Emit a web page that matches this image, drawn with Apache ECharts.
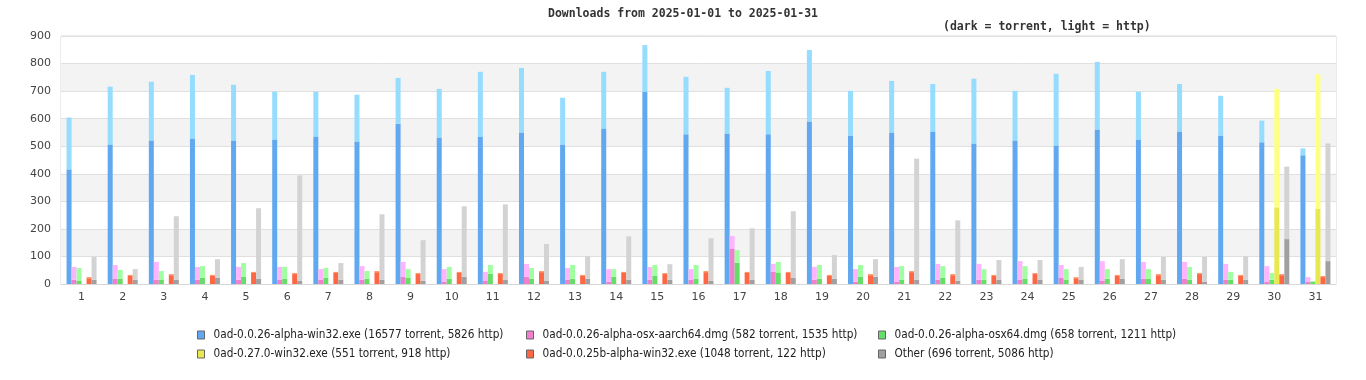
<!DOCTYPE html>
<html>
<head>
<meta charset="utf-8">
<script src="https://cdn.jsdelivr.net/npm/echarts@6/dist/echarts.min.js"></script>
<style>html,body{margin:0;padding:0;background:#fff;}#c{width:1366px;height:380px;}</style>
</head>
<body>
<div id="c"></div>
<script>
const days = ['1','2','3','4','5','6','7','8','9','10','11','12','13','14','15','16','17','18','19','20','21','22','23','24','25','26','27','28','29','30','31'];
const yTicks = [0,100,200,300,400,500,600,700,800,900];

const fileNames = [
  '0ad-0.0.26-alpha-win32.exe (16577 torrent, 5826 http)',
  '0ad-0.0.26-alpha-osx-aarch64.dmg (582 torrent, 1535 http)',
  '0ad-0.0.26-alpha-osx64.dmg (658 torrent, 1211 http)',
  '0ad-0.27.0-win32.exe (551 torrent, 918 http)',
  '0ad-0.0.25b-alpha-win32.exe (1048 torrent, 122 http)',
  'Other (696 torrent, 5086 http)'
];

const win32Torrent = [416,506,521,528,521,524,535,517,582,532,535,550,506,564,698,543,546,543,590,539,550,553,510,521,503,561,524,553,539,514,467];
const win32Http    = [188,210,213,231,202,174,163,170,166,176,235,234,170,206,169,209,166,230,259,162,187,173,235,180,260,245,174,173,144,79,25];

const aarchTorrent = [15,19,15,15,15,15,15,15,26,8,11,26,15,8,15,15,127,44,15,8,8,15,15,15,22,11,19,19,15,8,8];
const aarchHttp    = [47,50,65,47,47,47,39,50,54,46,33,47,43,46,47,39,47,29,47,46,54,58,58,68,47,72,61,61,58,57,17];

const osx64Torrent = [11,19,15,22,26,19,22,19,22,19,37,19,19,26,29,19,77,40,19,26,15,22,15,19,15,19,19,15,15,15,8];
const osx64Http    = [47,32,32,43,50,43,36,28,32,43,32,39,50,28,40,50,46,40,50,43,50,43,39,46,39,35,35,47,29,25,3];

const v27Torrent = [0,0,0,0,0,0,0,0,0,0,0,0,0,0,0,0,0,0,0,0,0,0,0,0,0,0,0,0,0,278,273];
const v27Http    = [0,0,0,0,0,0,0,0,0,0,0,0,0,0,0,0,0,0,0,0,0,0,0,0,0,0,0,0,0,430,488];

const v25Torrent = [21,29,32,29,40,36,40,43,36,40,36,43,29,40,36,43,40,40,29,32,43,32,29,36,21,29,32,36,29,32,25];
const v25Http    = [4,4,4,4,4,4,4,4,4,4,4,4,4,4,4,4,4,4,4,4,4,4,4,4,4,4,4,4,4,4,4];

const otherTorrent = [15,15,15,22,19,11,15,15,11,26,15,11,19,15,15,11,15,22,19,26,15,11,15,15,15,19,15,8,15,163,83];
const otherHttp    = [84,39,231,68,256,383,61,238,148,256,274,134,82,158,57,155,187,242,86,64,440,220,72,72,47,71,83,90,86,263,427];

const darkColors  = ['#60a8f0','#f080cc','#66dd66','#e8e850','#ff6644','#a0a0a0'];
const lightColors = ['#95dcff','#ffb4ff','#a0ffa0','#ffff80','#ff9966','#d3d3d3'];

const torrentData = [win32Torrent, aarchTorrent, osx64Torrent, v27Torrent, v25Torrent, otherTorrent];
const httpData    = [win32Http, aarchHttp, osx64Http, v27Http, v25Http, otherHttp];

const series = [];
fileNames.forEach((n, i) => {
  series.push({name: n, type: 'bar', stack: 's' + i, data: torrentData[i], barWidth: 5, barGap: '0%',
    itemStyle: {color: darkColors[i]}, emphasis: {disabled: true}});
  series.push({name: n, type: 'bar', stack: 's' + i, data: httpData[i], barWidth: 5, barGap: '0%',
    itemStyle: {color: lightColors[i]}, emphasis: {disabled: true}});
});

const legendPos = [[197, 329], [526, 329], [878, 329], [197, 348], [526, 348], [878, 348]];
const legends = fileNames.map((n, i) => ({
  data: [n], left: legendPos[i][0], top: legendPos[i][1], orient: 'horizontal', padding: 0,
  icon: 'rect', itemWidth: 7, itemHeight: 8, itemGap: 0, selectedMode: false,
  itemStyle: {color: darkColors[i], borderColor: '#666', borderWidth: 1},
  textStyle: {fontFamily: '"DejaVu Sans Condensed", "Liberation Sans Narrow", sans-serif', fontSize: 11.7, color: '#222', padding: [0,0,0,4]}
}));

const chart = echarts.init(document.getElementById('c'), null, {renderer: 'canvas'});
chart.setOption({
  animation: false,
  backgroundColor: '#fff',
  title: [
    {text: 'Downloads from 2025-01-01 to 2025-01-31', left: 'center', top: 3,
     textStyle: {fontFamily: '"DejaVu Sans Mono", monospace', fontWeight: 'bold', fontSize: 11.5, color: '#333'}},
    {text: '(dark = torrent, light = http)', left: 938, top: 16,
     textStyle: {fontFamily: '"DejaVu Sans Mono", monospace', fontWeight: 'bold', fontSize: 11.5, color: '#333'}}
  ],
  legend: legends,
  grid: {left: 61, right: 30, top: 36, bottom: 96, show: true, borderColor: '#d8d8d8', borderWidth: 1, backgroundColor: 'transparent'},
  xAxis: {
    type: 'category', data: days,
    axisLine: {show: true, lineStyle: {color: '#d8d8d8'}},
    axisTick: {show: false},
    axisLabel: {color: '#444', fontSize: 11, fontFamily: '"DejaVu Sans", sans-serif', margin: 8, interval: 0}
  },
  yAxis: {
    type: 'value', min: yTicks[0], max: yTicks[yTicks.length - 1], interval: 100,
    axisLine: {show: false}, axisTick: {show: false},
    axisLabel: {color: '#444', fontSize: 11, fontFamily: '"DejaVu Sans", sans-serif', margin: 10},
    splitLine: {show: true, lineStyle: {color: '#e0e0e0'}},
    splitArea: {show: true, areaStyle: {color: ['#ffffff', '#f3f3f3']}}
  },
  series: series
});
</script>
</body>
</html>
